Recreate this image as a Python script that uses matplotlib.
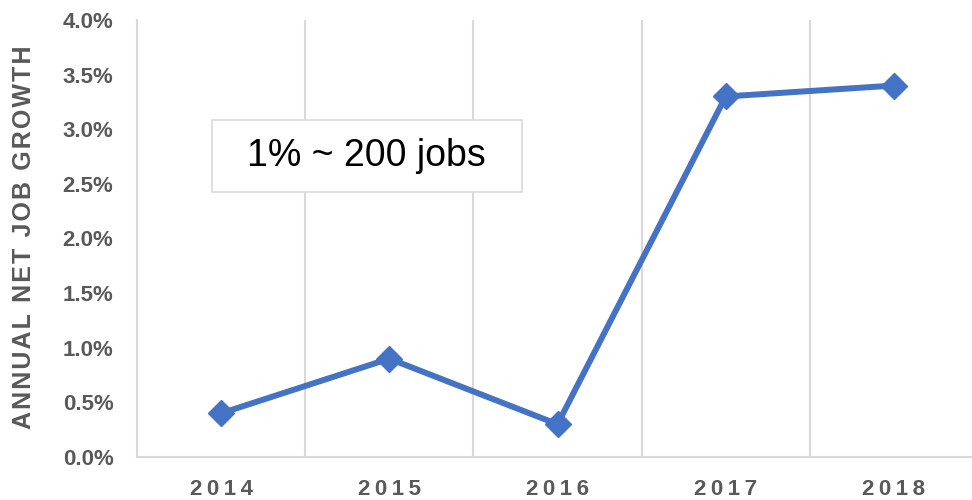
import matplotlib
matplotlib.use("Agg")
import matplotlib.pyplot as plt
from matplotlib.patches import Rectangle
from matplotlib.ticker import FuncFormatter, FixedLocator

plt.rcParams['font.family'] = ['Liberation Sans', 'DejaVu Sans']

years = ["2014", "2015", "2016", "2017", "2018"]
growth = [0.4, 0.9, 0.3, 3.3, 3.4]
y_ticks = [0.0, 0.5, 1.0, 1.5, 2.0, 2.5, 3.0, 3.5, 4.0]
note = "1% ~ 200 jobs"
ylabel = "ANNUAL NET JOB GROWTH"

W, H = 972, 500
fig = plt.figure(figsize=(W / 100, H / 100), dpi=100)
ax = fig.add_axes([137 / W, 1 - 457 / H, 1 - 137 / W, (457 - 20) / H])

x = list(range(len(years)))
ax.plot(x, growth, color="#4472C4", linewidth=4.3, marker="D",
        markersize=13, markeredgewidth=1, markeredgecolor="#4472C4",
        solid_joinstyle="miter", zorder=5, clip_on=False)

ax.set_xlim(-0.5, (W - 222) / 168)
ax.set_ylim(0, 4.0)

grid_col = "#D9D9D9"
for b in [i + 0.5 for i in range(len(years) - 1)]:
    ax.axvline(b, color=grid_col, linewidth=1.5, zorder=1)

for s in ["top", "right"]:
    ax.spines[s].set_visible(False)
for s in ["left", "bottom"]:
    ax.spines[s].set_color(grid_col)
    ax.spines[s].set_linewidth(1.5)

ax.yaxis.set_major_locator(FixedLocator(y_ticks))
ax.yaxis.set_major_formatter(FuncFormatter(lambda v, p: f"{v:.1f}%"))
ax.set_xticks(x)
ax.set_xticklabels(["\u2009".join(y) for y in years])
ax.tick_params(axis="y", length=0, pad=17, labelsize=16, labelcolor="#595959")
ax.tick_params(axis="x", length=0, pad=16, labelsize=16, labelcolor="#595959")
for lab in ax.get_yticklabels() + ax.get_xticklabels():
    lab.set_fontweight("bold")

fig.text(24 / W, 1 - 237 / H, "\u200a".join(ylabel), rotation=90,
         ha="center", va="center", fontsize=18, fontweight="bold",
         color="#595959")

# annotation box
ax.add_patch(Rectangle((-0.055, 2.426), 1.844, 0.659, facecolor="white",
                       edgecolor="#D9D9D9", linewidth=1.2, zorder=3))
ax.text(0.866, 2.755, note, ha="center", va="center", fontsize=27,
        color="black", zorder=4)

fig.savefig("out.png", dpi=100)
